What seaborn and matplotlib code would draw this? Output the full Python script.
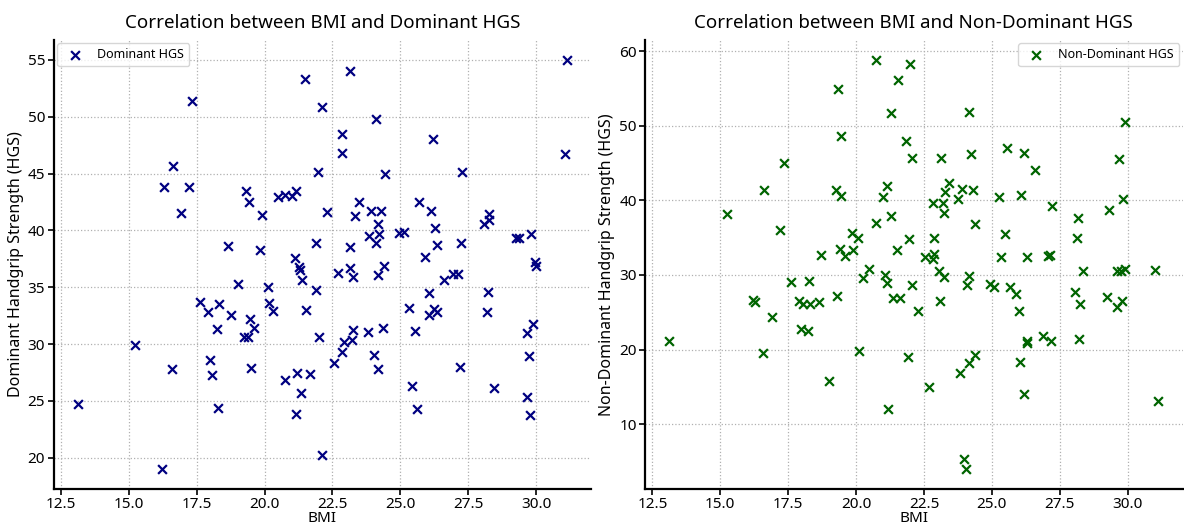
import numpy as np
import pandas as pd
import matplotlib
matplotlib.use("Agg")
import matplotlib.pyplot as plt
import seaborn as sns

# Dominant hand grip strength vs BMI
bmi_dom = [21.48, 17.33, 16.62, 16.29, 17.23, 16.93, 19.33, 19.42, 19.89, 20.49,
           20.74, 21.02, 21.17, 18.67, 19.85, 21.11, 21.27, 31.13, 23.14, 22.10,
           24.10, 22.87, 22.87, 26.21, 31.07, 21.98, 24.43, 27.28, 23.46, 22.30,
           23.33, 23.91, 24.28, 24.18, 23.85, 24.22, 24.12, 24.95, 25.13, 25.68,
           26.13, 26.29, 26.34, 25.90, 27.23, 28.26, 28.27, 28.09, 29.26, 29.38,
           29.82, 21.88, 23.14, 29.97, 30.00, 23.14, 24.40, 21.32, 21.38, 19.02,
           20.12, 17.63, 18.32, 17.92, 18.75, 20.15, 20.31, 21.53, 19.45, 19.63,
           18.26, 19.26, 19.39, 15.24, 17.98, 18.05, 16.58, 19.49, 20.75, 21.21,
           21.33, 21.17, 13.13, 18.29, 16.23, 22.72, 23.26, 24.18, 26.62, 26.95,
           27.11, 21.91, 26.05, 28.24, 25.33, 26.05, 26.25, 26.36, 28.18, 22.01,
           23.26, 23.22, 22.92, 22.84, 22.57, 23.81, 24.35, 24.02, 24.16, 25.53,
           27.20, 29.90, 29.66, 29.73, 21.69, 25.42, 25.60, 28.43, 29.67, 29.78,
           22.10]
hgs_dom = [53.3, 51.4, 45.7, 43.8, 43.8, 41.55, 43.5, 42.5, 41.4, 42.9,
           43.1, 43.0, 43.5, 38.6, 38.25, 37.6, 36.8, 55.0, 54.06, 50.85,
           49.8, 48.5, 46.8, 48.04, 46.75, 45.1, 45.0, 45.15, 42.54, 41.64,
           41.25, 41.67, 41.7, 40.53, 39.5, 39.65, 38.9, 39.74, 39.85, 42.5,
           41.7, 40.2, 38.7, 37.7, 38.9, 41.46, 40.96, 40.6, 39.36, 39.36,
           39.65, 38.9, 38.5, 37.2, 36.9, 36.7, 36.9, 36.52, 35.64, 35.26,
           35.06, 33.7, 33.5, 32.83, 32.54, 33.65, 32.87, 33.0, 32.2, 31.4,
           31.3, 30.64, 30.64, 29.94, 28.6, 27.28, 27.8, 27.87, 26.87, 27.43,
           25.67, 23.86, 24.74, 24.36, 19.04, 36.29, 35.9, 36.08, 35.64, 36.14,
           36.2, 34.76, 34.53, 34.59, 33.18, 32.57, 33.07, 32.78, 32.83, 30.64,
           31.23, 30.38, 30.15, 29.27, 28.33, 31.03, 31.4, 29.0, 27.8, 31.11,
           27.98, 31.73, 30.96, 28.92, 27.37, 26.32, 24.33, 26.14, 25.32, 23.77,
           20.26]

# Non-dominant hand grip strength vs BMI
bmi_nondom = [20.74, 21.53, 19.33, 21.29, 19.43, 17.33, 16.61, 19.26, 19.45, 21.13,
              21.00, 15.24, 17.21, 20.74, 21.29, 19.84, 20.06, 18.71, 19.39, 19.60,
              19.88, 21.51, 21.97, 24.14, 29.90, 21.85, 22.06, 23.13, 24.23, 25.54,
              26.19, 26.57, 29.67, 23.43, 23.29, 23.89, 24.30, 23.76, 22.82, 23.19,
              23.22, 25.28, 26.09, 27.23, 29.83, 29.30, 28.18, 24.39, 21.94, 22.88,
              25.48, 28.13, 22.55, 22.86, 22.82, 25.35, 26.31, 27.05, 27.15, 20.47,
              20.27, 21.08, 21.13, 21.35, 17.61, 18.26, 19.30, 16.20, 16.29, 17.89,
              18.04, 18.29, 18.65, 16.91, 17.96, 18.24, 13.13, 16.57, 20.12, 18.99,
              21.19, 23.07, 23.22, 24.14, 24.08, 22.07, 21.63, 22.27, 23.10, 24.94,
              25.09, 25.65, 25.87, 26.01, 28.37, 28.07, 28.24, 29.23, 29.62, 29.78,
              29.62, 29.74, 29.89, 31.01, 26.29, 26.29, 26.90, 27.19, 28.19, 21.90,
              24.39, 24.17, 23.81, 26.03, 22.68, 26.19, 31.13, 23.99, 24.06]
hgs_nondom = [58.85, 56.2, 54.98, 51.8, 48.6, 44.97, 41.4, 41.4, 40.6, 41.98,
              40.5, 38.16, 35.97, 37.04, 37.97, 35.62, 34.95, 32.68, 33.5, 32.6,
              33.4, 33.4, 58.3, 51.86, 50.52, 48.0, 45.63, 45.63, 46.2, 47.05,
              46.38, 44.07, 45.5, 42.3, 41.1, 41.5, 41.4, 40.24, 39.63, 39.63,
              38.29, 40.5, 40.7, 39.27, 40.2, 38.73, 37.7, 36.86, 34.86, 35.0,
              35.53, 35.0, 32.42, 32.86, 32.15, 32.42, 32.42, 32.5, 32.72, 30.86,
              29.61, 30.05, 28.94, 26.94, 29.03, 29.16, 27.16, 26.58, 26.41, 26.49,
              26.05, 26.14, 26.35, 24.35, 22.71, 22.53, 21.15, 19.51, 19.82, 15.81,
              12.03, 30.5, 29.75, 29.83, 28.72, 28.72, 26.9, 25.15, 26.49, 28.81,
              28.41, 28.36, 27.48, 25.15, 30.5, 27.74, 26.14, 27.07, 25.69, 26.49,
              30.59, 30.59, 30.86, 30.73, 21.15, 20.85, 21.82, 21.15, 21.47, 19.0,
              19.33, 18.13, 16.83, 18.34, 15.01, 14.03, 13.06, 5.26, 4.02]

sns.set_style("ticks")
plt.rcParams['font.family'] = ['Noto Sans', 'DejaVu Sans']
plt.rcParams['text.color'] = 'black'
plt.rcParams['axes.labelcolor'] = 'black'
plt.rcParams['xtick.color'] = 'black'
plt.rcParams['ytick.color'] = 'black'
plt.rcParams['axes.edgecolor'] = 'black'
plt.rcParams['axes.linewidth'] = 1.6
plt.rcParams['grid.linestyle'] = ':'
plt.rcParams['grid.color'] = '#b0b0b0'
plt.rcParams['grid.linewidth'] = 0.9

fig, axes = plt.subplots(1, 2, figsize=(11.84, 5.27), dpi=100)
fig.subplots_adjust(left=0.0452, right=0.999, bottom=0.072, top=0.925, wspace=0.10)

panels = [
    (axes[0], bmi_dom, hgs_dom, 'navy', 'Dominant HGS', 'Dominant Handgrip Strength (HGS)',
     'Correlation between BMI and Dominant HGS', 'upper left'),
    (axes[1], bmi_nondom, hgs_nondom, 'darkgreen', 'Non-Dominant HGS',
     'Non-Dominant Handgrip Strength (HGS)',
     'Correlation between BMI and Non-Dominant HGS', 'upper right'),
]

for ax, x, y, color, lab, ylab, title, loc in panels:
    df = pd.DataFrame({'BMI': x, 'HGS': y})
    sns.scatterplot(data=df, x='BMI', y='HGS', marker='x', color=color, s=40,
                    linewidth=1.6, label=lab, ax=ax)
    ax.set_title(title, fontsize=13.5, pad=8)
    ax.set_xlabel('BMI', fontsize=11, labelpad=-1)
    ax.set_ylabel(ylab, fontsize=11.5, labelpad=3)
    ax.tick_params(labelsize=11, length=4, width=1.2, pad=2)
    ax.grid(True)
    sns.despine(ax=ax)
    ax.legend(loc=loc, fontsize=9, frameon=True, fancybox=True,
              edgecolor='#cccccc', borderaxespad=0.3)

plt.savefig('out.png', dpi=100)
